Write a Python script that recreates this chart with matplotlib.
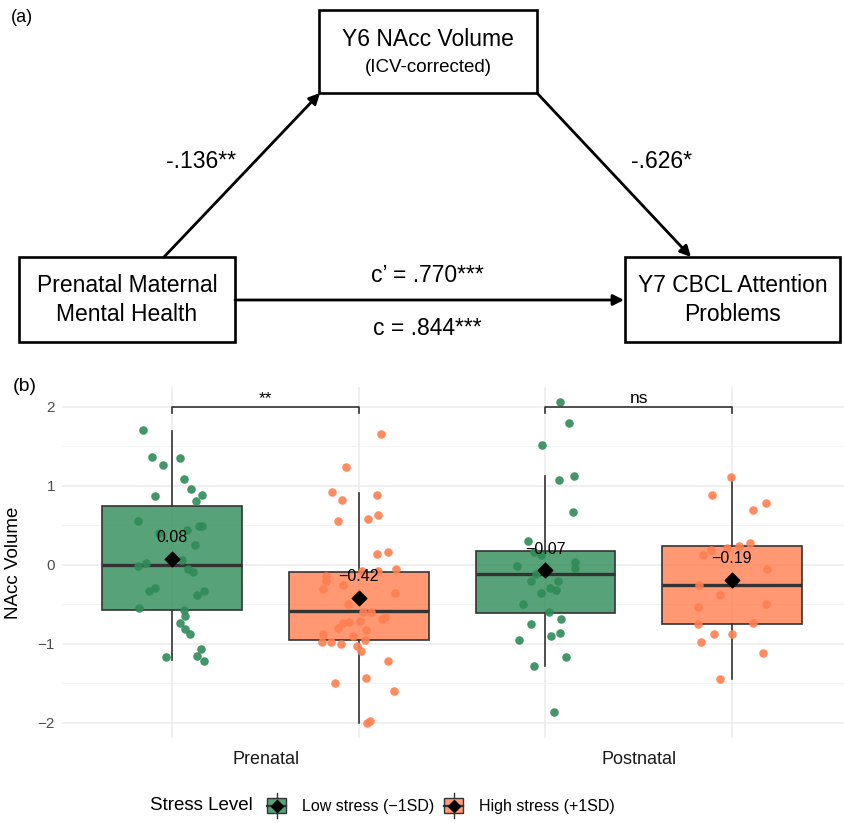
import numpy as np
import matplotlib
matplotlib.use("Agg")
import matplotlib.pyplot as plt
from matplotlib.patches import Rectangle, Patch
from matplotlib.lines import Line2D
from matplotlib.legend_handler import HandlerBase
from matplotlib.colors import to_rgba

plt.rcParams['font.family'] = ['Liberation Sans', 'DejaVu Sans']

# ---- panel (a): mediation diagram (pixel layout of the 845 wide figure) ----
node_boxes = [(319, 10, 537, 93), (19, 257, 235, 342), (625, 257, 840, 342)]
node_lines = [
    [("Y6 NAcc Volume", 16.5, 39), ("(ICV-corrected)", 13.5, 67)],
    [("Prenatal Maternal", 16.5, 286), ("Mental Health", 16.5, 314)],
    [("Y7 CBCL Attention", 16.5, 286), ("Problems", 16.5, 314)],
]
arrow_paths = [((164, 257), (320, 93)), ((537, 93), (691, 257)), ((235, 300), (624, 300))]
path_labels = ["-.136**", "-.626*", "c\u2019 = .770***", "c = .844***"]
path_label_xy = [(201, 162), (662, 162), (427, 275), (427, 328)]

# ---- panel (b): NAcc volume by period and stress level ----
periods = ["Prenatal", "Postnatal"]
levels = ["Low stress (\u22121SD)", "High stress (+1SD)"]
colors = ["#2E8B57", "#FF7F50"]
box_pos = [0.75, 1.25, 1.75, 2.25]

pre_low_jit = [-0.079, -0.054, -0.025, 0.019, 0.031, 0.051, 0.078, 0.064, -0.047, -0.093,
               0.072, 0.079, 0.039, 0.061, -0.037, 0.025, -0.093, -0.070, 0.043, 0.055,
               -0.064, -0.046, 0.065, 0.084, -0.089, 0.031, 0.035, 0.021, 0.034, 0.047,
               0.077, 0.067, 0.086, -0.016]
pre_low_y = [1.70, 1.36, 1.26, 1.35, 1.09, 0.96, 0.89, 0.81, 0.87, 0.56,
             0.49, 0.49, 0.44, 0.25, 0.40, 0.06, -0.01, 0.02, -0.05, -0.09,
             -0.33, -0.29, -0.38, -0.33, -0.55, -0.57, -0.65, -0.74, -0.81, -0.87,
             -1.07, -1.15, -1.21, -1.17]
pre_high_jit = [0.060, -0.035, -0.072, -0.046, 0.049, -0.057, 0.024, 0.050, 0.049, 0.079,
                0.099, 0.007, 0.050, -0.089, -0.089, -0.097, -0.044, 0.097, -0.030, 0.012,
                0.032, 0.070, 0.063, -0.044, -0.027, 0.003, -0.056, 0.018, -0.096, -0.017,
                0.016, -0.100, -0.076, -0.047, -0.004, 0.005, 0.079, 0.019, -0.064, 0.093,
                0.022, 0.030]
pre_high_y = [1.66, 1.24, 0.92, 0.815, 0.89, 0.55, 0.575, 0.63, 0.14, 0.16,
              -0.05, -0.08, -0.08, -0.14, -0.21, -0.31, -0.26, -0.35, -0.49, -0.59,
              -0.59, -0.66, -0.69, -0.74, -0.72, -0.71, -0.80, -0.83, -0.88, -0.90,
              -0.95, -0.98, -0.98, -1.00, -1.03, -1.09, -1.22, -1.43, -1.50, -1.59,
              -2.00, -1.97]
post_low_jit = [0.039, 0.064, -0.010, 0.037, 0.076, 0.073, -0.046, -0.032, -0.012, -0.077,
                0.080, 0.080, -0.026, -0.040, 0.033, 0.012, 0.028, -0.012, -0.059, 0.010,
                0.043, -0.039, 0.038, 0.015, -0.071, 0.056, -0.030, 0.022]
post_low_y = [2.06, 1.80, 1.51, 1.07, 1.13, 0.67, 0.30, 0.16, 0.12, -0.02,
              0.03, -0.04, -0.12, -0.20, -0.21, -0.29, -0.32, -0.36, -0.49, -0.60,
              -0.69, -0.75, -0.86, -0.90, -0.95, -1.17, -1.28, -1.86]
post_high_jit = [-0.002, -0.053, 0.057, 0.091, 0.020, 0.047, -0.012, -0.057, -0.079, 0.094,
                 -0.088, -0.031, -0.091, 0.090, -0.092, 0.056, -0.049, 0.000, -0.083, 0.082,
                 -0.033]
post_high_y = [1.11, 0.88, 0.69, 0.78, 0.245, 0.28, 0.21, 0.19, 0.12, -0.05,
               -0.25, -0.385, -0.53, -0.49, -0.75, -0.73, -0.87, -0.87, -0.98, -1.12,
               -1.44]

box_lo = [-1.20, -2.00, -1.28, -1.44]
box_q1 = [-0.57, -0.95, -0.61, -0.75]
box_med = [0.00, -0.58, -0.12, -0.25]
box_q3 = [0.75, -0.085, 0.17, 0.24]
box_hi = [1.69, 0.91, 1.13, 1.11]
means = [0.08, -0.42, -0.07, -0.19]
sig_labels = ["**", "ns"]
bracket_y = 2.0

fig = plt.figure(figsize=(8.45, 8.23), dpi=100)

# panel (a)
ax_a = fig.add_axes([0, 1 - 360 / 823, 1, 360 / 823])
ax_a.set_xlim(0, 845)
ax_a.set_ylim(360, 0)
ax_a.axis('off')
for (x0, y0, x1, y1), lines in zip(node_boxes, node_lines):
    ax_a.add_patch(Rectangle((x0, y0), x1 - x0, y1 - y0, fill=False, edgecolor='black', lw=1.9))
    for txt, fs, ty in lines:
        ax_a.text((x0 + x1) / 2, ty, txt, ha='center', va='center', fontsize=fs, color='black')
for start, end in arrow_paths:
    ax_a.annotate('', xy=end, xytext=start,
                  arrowprops=dict(arrowstyle='-|>', lw=2.0, color='black',
                                  shrinkA=0, shrinkB=0, mutation_scale=16))
for txt, (tx, ty) in zip(path_labels, path_label_xy):
    ax_a.text(tx, ty, txt, ha='center', va='center', fontsize=16.5, color='black')

# panel (b)
ax = fig.add_axes([62 / 845, 85 / 823, 783 / 845, 351 / 823])
ax.set_xlim(0.454, 2.553)
ax.set_ylim(-2.19, 2.25)
for s in ax.spines.values():
    s.set_visible(False)

stats = []
for i in range(4):
    stats.append(dict(med=box_med[i], q1=box_q1[i], q3=box_q3[i],
                      whislo=box_lo[i], whishi=box_hi[i], fliers=[]))
bp = ax.bxp(stats, positions=box_pos, widths=0.375, patch_artist=True,
            showfliers=False, showcaps=False, manage_ticks=False,
            boxprops=dict(edgecolor='#333333', lw=1.2),
            medianprops=dict(color='#333333', lw=2.4),
            whiskerprops=dict(color='#333333', lw=1.2))
for i, b in enumerate(bp['boxes']):
    b.set_facecolor(to_rgba(colors[i % 2], 0.8))
    b.set_zorder(2)

groups = [(pre_low_jit, pre_low_y), (pre_high_jit, pre_high_y),
          (post_low_jit, post_low_y), (post_high_jit, post_high_y)]
for i, (jit, yv) in enumerate(groups):
    ax.scatter(box_pos[i] + np.array(jit), yv, s=38, color=colors[i % 2],
               alpha=0.9, linewidths=0, zorder=3)

ax.scatter(box_pos, means, marker='D', s=55, color='black', zorder=4)
for x, m in zip(box_pos, means):
    ax.text(x, m + 0.27, f"{m:.2f}".replace('-', '\u2212'), ha='center', va='center',
            fontsize=11.5, color='black', zorder=5)

for k, lab in enumerate(sig_labels):
    xa, xb = box_pos[2 * k], box_pos[2 * k + 1]
    ax.plot([xa, xa, xb, xb], [bracket_y - 0.08, bracket_y, bracket_y, bracket_y - 0.08],
            color='#333333', lw=1.2, zorder=3)
    ax.text((xa + xb) / 2, bracket_y + 0.01, lab, ha='center', va='bottom',
            fontsize=12.5, color='black')

ax.set_yticks([-2, -1, 0, 1, 2])
ax.set_yticks([-1.5, -0.5, 0.5, 1.5], minor=True)
ax.set_xticks([1, 2])
ax.set_xticklabels(periods)
ax.set_xticks(box_pos, minor=True)
ax.grid(axis='y', which='major', color='#EBEBEB', lw=1.1)
ax.grid(axis='y', which='minor', color='#F3F3F3', lw=0.7)
ax.grid(axis='x', which='minor', color='#EBEBEB', lw=1.1)
ax.set_axisbelow(True)
ax.tick_params(axis='both', which='both', length=0)
ax.tick_params(axis='y', labelsize=11, labelcolor='#4D4D4D', pad=5)
ax.tick_params(axis='x', labelsize=13, labelcolor='#1A1A1A', pad=9)
ax.set_ylabel("NAcc Volume", fontsize=13.5, color='black')
ax.yaxis.set_label_coords(-0.051, 0.5)


class BoxKey(HandlerBase):
    def create_artists(self, legend, orig_handle, xdescent, ydescent, width, height, fontsize, trans):
        x0, y0 = -xdescent, -ydescent
        xc, yc = x0 + width / 2, y0 + height / 2
        vline = Line2D([xc, xc], [y0 - 0.3 * height, y0 + 1.3 * height], color='#333333', lw=1.0, transform=trans)
        rect = Rectangle((x0, y0), width, height, facecolor=orig_handle.get_facecolor(),
                         edgecolor='#333333', lw=1.0, transform=trans)
        hline = Line2D([x0, x0 + width], [yc, yc], color='#333333', lw=1.6, transform=trans)
        dia = Line2D([xc], [yc], marker='D', ms=6, color='black', linestyle='none', transform=trans)
        return [vline, rect, hline, dia]


handles = [Patch(facecolor=to_rgba(c, 0.8)) for c in colors]
fig.text(150 / 845, 1 - 806 / 823, "Stress Level", ha='left', va='center', fontsize=13.5)
fig.legend(handles, levels, handler_map={Patch: BoxKey()}, loc='center left',
           bbox_to_anchor=(267 / 845, 1 - 806 / 823), ncol=2, frameon=False, fontsize=11.5,
           handlelength=1.2, handleheight=1.1, handletextpad=1.0, columnspacing=0.6,
           borderaxespad=0, borderpad=0)

fig.text(22 / 845, 1 - 17 / 823, "(a)", ha='center', va='center', fontsize=13)
fig.text(25 / 845, 1 - 386 / 823, "(b)", ha='center', va='center', fontsize=14)

fig.savefig("out.png", dpi=100)
